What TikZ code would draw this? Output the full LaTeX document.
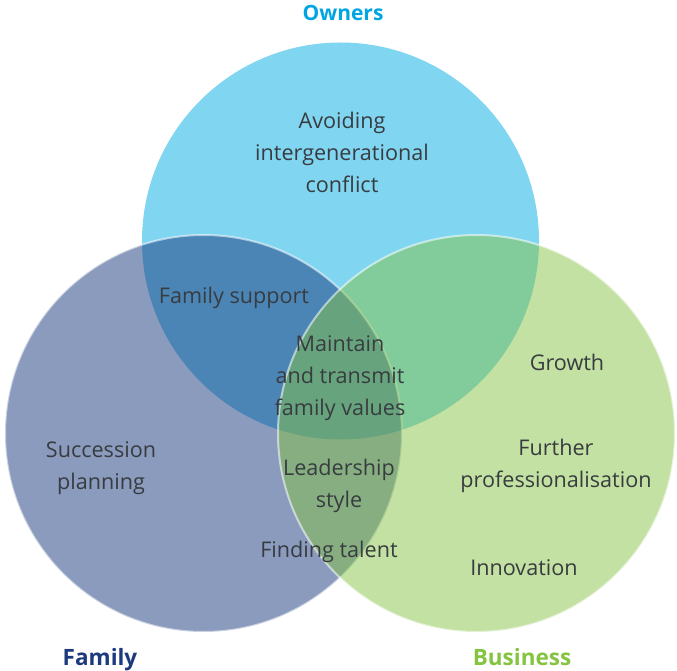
\documentclass[tikz,border=0pt]{standalone}
\usepackage{fontspec}
\setmainfont{Open Sans}
\definecolor{ownersfill}{RGB}{128,213,241}
\definecolor{familyfill}{RGB}{21,55,125}
\definecolor{businessfill}{RGB}{133,195,69}
\definecolor{ownerslabel}{RGB}{0,165,225}
\definecolor{familylabel}{RGB}{28,58,125}
\definecolor{businesslabel}{RGB}{132,196,65}
\definecolor{bodytext}{RGB}{56,60,64}
\begin{document}
\begin{tikzpicture}[x=1bp,y=-1bp,
  setcircle/.style={circle, inner sep=0pt, minimum size=397bp},
  body/.style={align=center, text=bodytext, inner sep=0pt,
    font=\fontsize{21.6bp}{32bp}\selectfont},
  title/.style={inner sep=0pt, anchor=base, font=\fontsize{21bp}{24bp}\selectfont\bfseries},
  bigtitle/.style={inner sep=0pt, anchor=base, font=\fontsize{22.5bp}{26bp}\selectfont\bfseries},
  edge/.style={draw=white, draw opacity=0.55, line width=2bp}]
\useasboundingbox (0,0) rectangle (677,671);
\node[setcircle, fill=ownersfill] (owners) at (340.5,241) {};
\node[setcircle, fill=familyfill, fill opacity=0.5, edge] (family) at (203.5,433.5) {};
\node[setcircle, fill=businessfill, fill opacity=0.5, edge] (business) at (476.5,433.5) {};
\node[title, text=ownerslabel] (lowners) at (343,21) {Owners};
\node[bigtitle, text=familylabel] (lfamily) at (100,665) {Family};
\node[bigtitle, text=businesslabel] (lbusiness) at (522,665) {Business};
\node[body] (avoid) at (342,152) {Avoiding\\intergenerational\\conflict};
\node[body] (support) at (234,298) {Family support};
\node[body] (values) at (340,378) {Maintain\\and transmit\\family values};
\node[body] (growth) at (567,362) {Growth};
\node[body] (prof) at (556,466) {Further\\professionalisation};
\node[body] (succ) at (101,468) {Succession\\planning};
\node[body] (lead) at (339,486) {Leadership\\style};
\node[body] (talent) at (329,552) {Finding talent};
\node[body] (innov) at (524,568) {Innovation};
\end{tikzpicture}
\end{document}
